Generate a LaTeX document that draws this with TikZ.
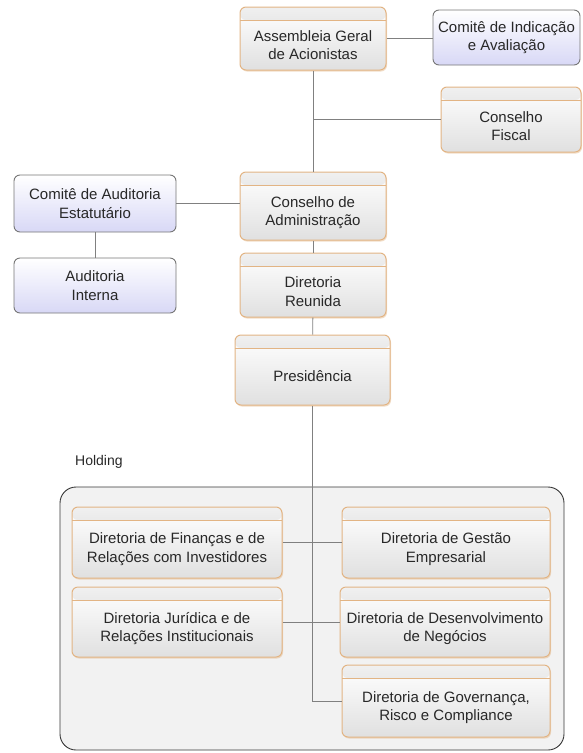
\documentclass[tikz,border=0pt]{standalone}
\usepackage{fontspec}
\setmainfont{Liberation Sans}
\usetikzlibrary{fit}
\usetikzlibrary{shadows}

\definecolor{orgedge}{RGB}{226,180,132}
\definecolor{orgshade}{RGB}{224,224,224}
\definecolor{orghead}{RGB}{208,208,208}
\definecolor{orgheadtop}{RGB}{240,240,240}
\definecolor{comedge}{RGB}{118,118,118}
\definecolor{comfill}{RGB}{216,216,246}
\definecolor{linkgray}{RGB}{128,128,128}
\definecolor{holdfill}{RGB}{242,242,242}
\definecolor{holdedge}{RGB}{55,55,55}
\definecolor{txtgray}{RGB}{40,40,40}

\begin{document}
\begin{tikzpicture}[x=1pt, y=-1pt,
    orgbox/.style={draw=orgedge, line width=1pt, rounded corners=6pt, inner sep=0pt,
        top color=white, bottom color=orgshade,
        drop shadow={shadow xshift=1pt, shadow yshift=-1.5pt, fill=orgedge, opacity=0.45},
        path picture={
            \shade[top color=orgheadtop, bottom color=orghead]
                (path picture bounding box.north west) rectangle
                ([yshift=-13pt]path picture bounding box.north east);
            \draw[orgedge, line width=1pt]
                ([yshift=-13pt]path picture bounding box.north west) --
                ([yshift=-13pt]path picture bounding box.north east);
        }},
    combox/.style={draw=comedge, line width=0.9pt, rounded corners=6pt, inner sep=0pt,
        top color=white, bottom color=comfill},
    holdbox/.style={draw=holdedge, fill=holdfill, line width=0.9pt, rounded corners=16pt, inner sep=0pt},
    boxtext/.style={align=center, font=\fontsize{15}{18.5}\selectfont, text=txtgray, inner sep=0pt},
    link/.style={draw=linkgray, line width=0.9pt}]

\useasboundingbox (0,0) rectangle (582,753);

% Macro: orange unit with grey header band (name, left, top, right, bottom, text)
\newcommand{\orgunit}[6]{
    \node[orgbox, fit={(#2,#3) (#4,#5)}] (#1) {};
    \node[boxtext] (#1-txt) at ([yshift=-6.5pt]#1.center) {#6};
}
% Macro: lavender committee box (name, left, top, right, bottom, text)
\newcommand{\comunit}[6]{
    \node[combox, fit={(#2,#3) (#4,#5)}] (#1) {};
    \node[boxtext] (#1-txt) at (#1.center) {#6};
}

% Holding frame
\node[holdbox, fit={(60,487) (564,750)}] (holding) {};
\node[boxtext, font=\fontsize{14}{17}\selectfont, anchor=west] (holdlabel) at (75,462) {Holding};

% Main column
\orgunit{asm}{240}{7}{386}{70}{Assembleia Geral\\de Acionistas}
\orgunit{cadm}{240}{172}{386}{240}{Conselho de\\Administração}
\orgunit{dreun}{240}{253}{386}{317}{Diretoria\\Reunida}
\orgunit{pres}{235}{335}{390}{405}{Presidência}
\orgunit{fiscal}{441}{87}{581}{152}{Conselho\\Fiscal}

% Committees
\comunit{indic}{433}{10}{580}{65}{Comitê de Indicação\\e Avaliação}
\comunit{audit}{14}{175}{176}{232}{Comitê de Auditoria\\Estatutário}
\comunit{audint}{14}{258}{176}{313}{Auditoria\\Interna}

% Holding directorates
\orgunit{fin}{72}{507}{282}{578}{Diretoria de Finanças e de\\Relações com Investidores}
\orgunit{jur}{72}{587}{282}{657}{Diretoria Jurídica e de\\Relações Institucionais}
\orgunit{gest}{342}{507}{550}{578}{Diretoria de Gestão\\Empresarial}
\orgunit{desenv}{340}{587}{550}{657}{Diretoria de Desenvolvimento\\de Negócios}
\orgunit{gov}{342}{665}{550}{737}{Diretoria de Governança,\\Risco e Compliance}

% Connectors
\draw[link] (asm) -- (cadm);
\draw[link] (cadm) -- (dreun);
\draw[link] (dreun) -- (pres);
\draw[link] (pres) |- (gov);
\draw[link] (asm.east) -- (asm.east -| indic.west);
\draw[link] (fiscal.west) -- (fiscal.west -| asm.south);
\draw[link] (audit.east) -- (audit.east -| cadm.west);
\draw[link] (audit) -- (audint);
\draw[link] (fin.east) -- (fin.east -| pres.south);
\draw[link] (jur.east) -- (jur.east -| pres.south);
\draw[link] (gest.west) -- (gest.west -| pres.south);
\draw[link] (desenv.west) -- (desenv.west -| pres.south);

\end{tikzpicture}
\end{document}
